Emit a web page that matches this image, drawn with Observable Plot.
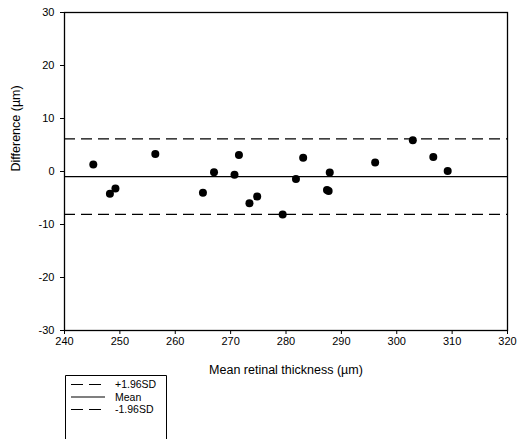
<!DOCTYPE html>
<html>
<head>
<meta charset="utf-8">
<script src="https://cdn.jsdelivr.net/npm/d3@7"></script>
<script src="https://cdn.jsdelivr.net/npm/@observablehq/plot@0.6"></script>
<style>
  html, body { margin: 0; padding: 0; background: #fff; overflow: hidden; }
  #wrap { position: relative; width: 520px; height: 439px; }
  #legend { position: absolute; left: 65px; top: 375px; }
  text { font-family: "Liberation Sans", Arial, sans-serif; }
</style>
</head>
<body>
<div id="wrap"></div>
<script>
// Bland–Altman: mean retinal thickness vs. difference between measurements
const meanThickness = [245.2, 248.2, 249.2, 256.4, 265.0, 267.0, 270.7, 271.5, 273.4, 274.8,
                       279.4, 281.8, 283.1, 287.4, 287.7, 287.9, 296.1, 302.9, 306.6, 309.2];
const difference    = [1.3, -4.2, -3.2, 3.3, -4.0, -0.15, -0.6, 3.1, -6.0, -4.7,
                       -8.1, -1.4, 2.6, -3.5, -3.7, -0.2, 1.7, 5.9, 2.75, 0.1];

// Limits of agreement and mean difference
const limitLabels = ["+1.96SD", "Mean", "-1.96SD"];
const limitValues = [6.15, -0.95, -8.1];
const limitDashes = ["11,6", null, "11,6"];

const xTicks = [240, 250, 260, 270, 280, 290, 300, 310, 320];
const yTicks = [-30, -20, -10, 0, 10, 20, 30];

const points = meanThickness.map((m, i) => ({m, d: difference[i]}));
const limits = limitLabels.map((label, i) => ({label, value: limitValues[i], dash: limitDashes[i]}));

const font = '"Liberation Sans", Arial, sans-serif';

const chart = Plot.plot({
  width: 520,
  height: 439,
  marginLeft: 64,
  marginRight: 13,
  marginTop: 12,
  marginBottom: 109,
  style: {fontFamily: font, fontSize: "11px", color: "#000", background: "#fff"},
  x: {domain: [240, 320]},
  y: {domain: [-30, 30]},
  marks: [
    Plot.axisX({ticks: xTicks, tickSize: 4, tickPadding: 3, tickFormat: d => String(d), label: null}),
    Plot.axisY({ticks: yTicks, tickSize: 4, tickPadding: 6, tickFormat: d => String(d), label: null}),
    ...limits.map(l => Plot.ruleY([l.value], {stroke: "#000", strokeWidth: 1.3, strokeDasharray: l.dash})),
    Plot.dot(points, {x: "m", y: "d", r: 4, fill: "#000", stroke: "none"}),
    Plot.frame({stroke: "#000", strokeWidth: 1.3}),
    Plot.text(["Mean retinal thickness (\u00b5m)"], {frameAnchor: "bottom", dy: 43, text: d => d, fontSize: 12.5, fill: "#000"}),
    Plot.text(["Difference (\u00b5m)"], {frameAnchor: "left", dx: -49, rotate: -90, text: d => d, fontSize: 12.5, fill: "#000"})
  ]
});
document.getElementById("wrap").appendChild(chart);

// Legend box below the chart
const lg = d3.select("#wrap").append("svg")
  .attr("id", "legend")
  .attr("width", 104)
  .attr("height", 64);
lg.append("path")
  .attr("d", "M0.5,64 V0.5 H101.5 V64")
  .attr("fill", "none")
  .attr("stroke", "#000")
  .attr("stroke-width", 1);
limits.forEach((l, i) => {
  const y = 9.5 + i * 12.5;
  lg.append("line")
    .attr("x1", 6).attr("x2", 40).attr("y1", y).attr("y2", y)
    .attr("stroke", "#000").attr("stroke-width", 1.1)
    .attr("stroke-dasharray", l.dash ? "12,6" : null);
  lg.append("text")
    .attr("x", 50).attr("y", y).attr("dy", "0.35em")
    .attr("font-size", 10.5).attr("fill", "#000")
    .style("font-family", font)
    .text(l.label);
});
</script>
</body>
</html>
